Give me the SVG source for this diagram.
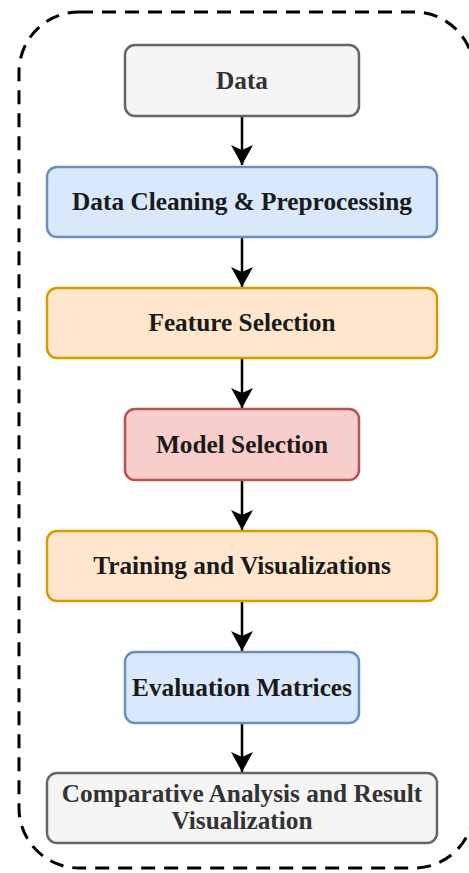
<svg xmlns="http://www.w3.org/2000/svg" width="469" height="873" viewBox="0 0 469 873">
<style>
.box{stroke-width:2.5}
.t{font-family:"Liberation Serif","Times New Roman",serif;font-weight:bold;font-size:25.3px;text-anchor:middle;fill:#1a1a1a}
.g{fill:#333333}
.grey{fill:#f5f5f5;stroke:#666666}
.blue{fill:#dae8fc;stroke:#6c8ebf}
.orange{fill:#ffe6cc;stroke:#d79b00}
.red{fill:#f8cecc;stroke:#b85450}
.edge{stroke:#000;stroke-width:2.5;fill:none}
</style>
<defs>
<marker id="ah" markerUnits="userSpaceOnUse" markerWidth="24" markerHeight="24" viewBox="0 0 24 24" refX="21" refY="12" orient="auto">
<path d="M21,12 L1,1 L6,12 L1,23 Z" fill="#000"/>
</marker>
</defs>
<rect x="19" y="12" width="455" height="856" rx="60" ry="60" fill="none" stroke="#000" stroke-width="3" stroke-dasharray="14 9"/>
<g id="edges">
<line class="edge" x1="242" y1="117" x2="242" y2="165" marker-end="url(#ah)"/>
<line class="edge" x1="242" y1="238" x2="242" y2="287" marker-end="url(#ah)"/>
<line class="edge" x1="242" y1="359" x2="242" y2="408" marker-end="url(#ah)"/>
<line class="edge" x1="242" y1="481" x2="242" y2="530" marker-end="url(#ah)"/>
<line class="edge" x1="242" y1="602" x2="242" y2="651" marker-end="url(#ah)"/>
<line class="edge" x1="242" y1="724" x2="242" y2="772" marker-end="url(#ah)"/>
</g>
<g id="data">
<rect class="box grey" x="125" y="45" width="234" height="71" rx="10"/>
<text class="t g" x="242" y="89">Data</text>
</g>
<g id="cleaning">
<rect class="box blue" x="47" y="167" width="390" height="70" rx="10"/>
<text class="t" x="242" y="210">Data Cleaning &amp; Preprocessing</text>
</g>
<g id="feature">
<rect class="box orange" x="47" y="288" width="390" height="70" rx="10"/>
<text class="t" x="242" y="331">Feature Selection</text>
</g>
<g id="model">
<rect class="box red" x="125" y="409" width="234" height="71" rx="10"/>
<text class="t" x="242" y="453">Model Selection</text>
</g>
<g id="training">
<rect class="box orange" x="47" y="531" width="390" height="70" rx="10"/>
<text class="t" x="242" y="574">Training and Visualizations</text>
</g>
<g id="evaluation">
<rect class="box blue" x="125" y="652" width="234" height="71" rx="10"/>
<text class="t" x="242" y="696">Evaluation Matrices</text>
</g>
<g id="comparative">
<rect class="box grey" x="47" y="773" width="390" height="70" rx="10"/>
<text class="t g" x="242" y="802">Comparative Analysis and Result</text>
<text class="t g" x="242" y="829">Visualization</text>
</g>
</svg>
